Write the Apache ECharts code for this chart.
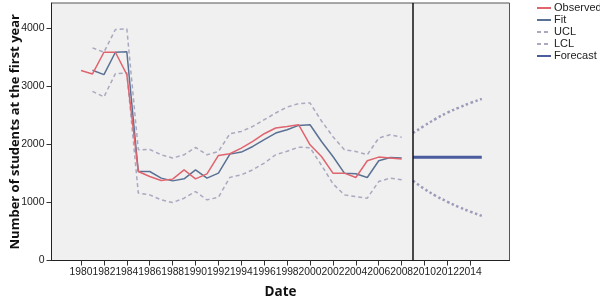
<!DOCTYPE html>
<html>
<head>
<meta charset="utf-8">
<script src="https://cdn.jsdelivr.net/npm/echarts@6/dist/echarts.min.js"></script>
<style>
  html, body { margin: 0; padding: 0; background: #fff; }
  #main { width: 600px; height: 298px; }
</style>
</head>
<body>
<div id="main"></div>
<script>
// tick labels on the date axis
var tickYears = [1980, 1982, 1984, 1986, 1988, 1990, 1992, 1994, 1996, 1998,
    2000, 2002, 2004, 2006, 2008, 2010, 2012, 2014];
var yTicks = [0, 1000, 2000, 3000, 4000];

// observed 1980-2008
var observed = [3270, 3210, 3583, 3583, 3198, 1531, 1445, 1376, 1400, 1560,
    1405, 1491, 1807, 1836, 1934, 2048, 2181, 2279, 2307, 2336,
    1991, 1790, 1503, 1503, 1428, 1716, 1779, 1762, 1745];
// fit 1981-2008
var fit = [3272, 3198, 3583, 3590, 1531, 1531, 1417, 1370, 1405, 1560,
    1417, 1503, 1830, 1865, 1962, 2078, 2193, 2250, 2324, 2336,
    2048, 1790, 1503, 1491, 1428, 1716, 1773, 1762];
// ucl / lcl 1981-2008
var ucl = [3658, 3583, 3974, 3986, 1905, 1910, 1819, 1762, 1819, 1945,
    1819, 1876, 2181, 2221, 2307, 2422, 2538, 2640, 2698, 2710,
    2400, 2130, 1905, 1876, 1819, 2107, 2164, 2120];
var lcl = [2910, 2814, 3215, 3228, 1159, 1129, 1043, 997, 1072, 1186,
    1043, 1089, 1430, 1474, 1560, 1676, 1819, 1880, 1950, 1940,
    1640, 1320, 1129, 1100, 1072, 1359, 1417, 1388];
// forecast 2009-2015
var forecast = [1775, 1775, 1775, 1775, 1775, 1775, 1775];
var forecastUcl = [2193, 2320, 2440, 2545, 2630, 2710, 2780];
var forecastLcl = [1371, 1230, 1110, 1010, 920, 840, 767];

// [year, value] pairs from a start year
function byYear(startYear, values) {
    return values.map(function (v, i) { return [startYear + i, v]; });
}

var chart = echarts.init(document.getElementById('main'));

var option = {
    animation: false,
    backgroundColor: '#ffffff',
    grid: {
        left: 51.5, right: 90.5, top: 3, bottom: 37.5,
        outerBoundsMode: 'none',
        containLabel: false,
        show: true,
        backgroundColor: '#f0f0f0',
        borderColor: '#555',
        borderWidth: 1
    },
    legend: {
        orient: 'vertical',
        left: 536, top: 2,
        padding: 0,
        itemWidth: 14, itemHeight: 12, itemGap: 0,
        itemStyle: { opacity: 0 },
        data: ['Observed', 'Fit', 'UCL', 'LCL', 'Forecast'],
        textStyle: { fontFamily: 'Liberation Sans', fontSize: 11, color: '#222', lineHeight: 12, padding: [0, 0, 0, -2] }
    },
    xAxis: {
        type: 'value',
        min: 1977.42, max: 2017.42,
        name: 'Date',
        nameLocation: 'middle',
        nameGap: 25,
        nameMoveOverlap: false,
        nameTextStyle: { fontFamily: 'Open Sans', fontWeight: 'bold', fontSize: 13.5, color: '#111' },
        axisLine: { show: true, lineStyle: { color: '#222' } },
        axisTick: { show: true, length: 5, lineStyle: { color: '#333' }, customValues: tickYears },
        axisLabel: {
            margin: 7, fontFamily: 'Liberation Sans', fontSize: 10.3, color: '#222',
            hideOverlap: false, showMinLabel: true, showMaxLabel: true,
            customValues: tickYears,
            formatter: function (v) { return String(v); }
        },
        splitLine: { show: false }
    },
    yAxis: {
        type: 'value',
        min: 0, max: 4430,
        name: 'Number of students at the first year',
        nameLocation: 'middle',
        nameGap: 30,
        nameMoveOverlap: false,
        nameTextStyle: { fontFamily: 'Open Sans', fontWeight: 'bold', fontSize: 13, color: '#111' },
        axisLine: { show: true, lineStyle: { color: '#222' } },
        axisTick: { show: true, length: 5, lineStyle: { color: '#333' }, customValues: yTicks },
        axisLabel: {
            margin: 7, fontFamily: 'Liberation Sans', fontSize: 10.5, color: '#222',
            customValues: yTicks,
            formatter: function (v) { return String(v); }
        },
        splitLine: { show: false }
    },
    series: [
        {
            name: 'UCL', type: 'line', symbol: 'none',
            data: byYear(1981, ucl),
            lineStyle: { color: '#a9a9bf', width: 1.5, type: [4, 3] },
            itemStyle: { color: '#a9a9bf' }
        },
        {
            name: 'LCL', type: 'line', symbol: 'none',
            data: byYear(1981, lcl),
            lineStyle: { color: '#a9a9bf', width: 1.5, type: [4, 3] },
            itemStyle: { color: '#a9a9bf' }
        },
        {
            name: 'Forecast UCL', type: 'line', symbol: 'none', smooth: true,
            data: byYear(2009, forecastUcl),
            lineStyle: { color: '#9c9cb8', width: 2.5, type: [2.5, 2.5] }
        },
        {
            name: 'Forecast LCL', type: 'line', symbol: 'none', smooth: true,
            data: byYear(2009, forecastLcl),
            lineStyle: { color: '#9c9cb8', width: 2.5, type: [2.5, 2.5] }
        },
        {
            name: 'Fit', type: 'line', symbol: 'none',
            data: byYear(1981, fit),
            lineStyle: { color: '#5b7194', width: 1.5 },
            itemStyle: { color: '#5b7194' }
        },
        {
            name: 'Observed', type: 'line', symbol: 'none',
            data: byYear(1980, observed),
            lineStyle: { color: '#e0646e', width: 1.5 },
            itemStyle: { color: '#e0646e' }
        },
        {
            name: 'Forecast', type: 'line', symbol: 'none',
            data: byYear(2009, forecast),
            lineStyle: { color: '#4a5c9e', width: 3 },
            itemStyle: { color: '#4a5c9e' },
            markLine: {
                silent: true,
                symbol: ['none', 'none'],
                label: { show: false },
                lineStyle: { color: '#111', width: 1.5, type: 'solid' },
                data: [{ xAxis: 2009 }]
            }
        }
    ]
};

chart.setOption(option);
</script>
</body>
</html>
